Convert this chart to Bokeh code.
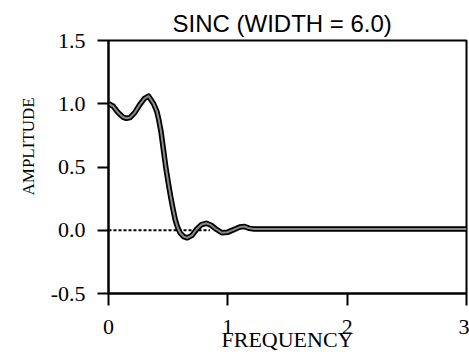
from bokeh.plotting import figure
from bokeh.models import FixedTicker, NumeralTickFormatter, Title
from bokeh.embed import file_html
from bokeh.resources import INLINE

title_text = "SINC (WIDTH = 6.0)"
x_label = "FREQUENCY"
y_label = "AMPLITUDE"

x_ticks = [0, 1, 2, 3]
y_ticks = [-0.5, 0.0, 0.5, 1.0, 1.5]

freq = [0.00, 0.04, 0.08, 0.12, 0.15, 0.18, 0.22, 0.26, 0.30, 0.336, 0.378,
        0.405, 0.42, 0.44, 0.46, 0.48, 0.50, 0.52, 0.54, 0.56, 0.58, 0.60,
        0.63, 0.66, 0.70, 0.74, 0.78, 0.82, 0.86, 0.90, 0.95, 1.00, 1.05,
        1.10, 1.14, 1.18, 1.22, 3.00]
amplitude = [1.00, 0.98, 0.93, 0.895, 0.885, 0.89, 0.93, 0.99, 1.04, 1.06, 1.00,
             0.94, 0.88, 0.78, 0.64, 0.50, 0.38, 0.27, 0.17, 0.08, 0.02, -0.02,
             -0.05, -0.06, -0.04, 0.01, 0.045, 0.055, 0.04, 0.01, -0.02, -0.015, 0.005,
             0.025, 0.03, 0.015, 0.01, 0.01]

zero_x = [0.0, 0.85]
zero_y = [0.0, 0.0]

p = figure(width=469, height=362, x_range=(0, 3), y_range=(-0.5, 1.5),
           output_backend="svg", toolbar_location=None,
           min_border_left=108, min_border_right=3, min_border_top=40,
           min_border_bottom=69)
p.background_fill_color = "white"
p.border_fill_color = "white"
p.grid.visible = False
p.outline_line_color = "black"
p.outline_line_width = 2

serif = "Liberation Serif"

p.title.text = title_text
p.title.align = "left"
p.title.offset = 64
p.title.text_font = "Liberation Sans"
p.title.text_font_size = "24px"
p.title.text_font_style = "normal"
p.title.text_color = "black"
p.title.standoff = 8

for ax in (p.xaxis, p.yaxis):
    ax.axis_line_color = "black"
    ax.axis_line_width = 2
    ax.major_tick_line_color = "black"
    ax.major_tick_line_width = 2
    ax.major_tick_in = 0
    ax.minor_tick_line_color = None
    ax.major_label_text_font = serif
    ax.major_label_text_font_size = "22px"
    ax.major_label_text_color = "black"

p.xaxis.ticker = FixedTicker(ticks=x_ticks)
p.xaxis.major_tick_out = 12
p.xaxis.major_label_standoff = 14
p.xaxis.axis_label = x_label
p.xaxis.axis_label_text_font = serif
p.xaxis.axis_label_text_font_size = "22px"
p.xaxis.axis_label_text_font_style = "normal"
p.xaxis.axis_label_text_color = "black"
p.xaxis.axis_label_standoff = -10

p.yaxis.ticker = FixedTicker(ticks=y_ticks)
p.yaxis.formatter = NumeralTickFormatter(format="0.0")
p.yaxis.major_tick_out = 11
p.yaxis.major_label_standoff = 12

ytitle = Title(text=y_label, align="left", offset=98, standoff=19,
               text_font=serif, text_font_size="17px", text_font_style="normal",
               text_color="black")
p.add_layout(ytitle, "left")

p.line(zero_x, zero_y, line_color="black", line_width=2, line_dash="3 2")
p.line(freq, amplitude, line_color="black", line_width=5.5, line_join="round")
p.line(freq, amplitude, line_color="#8a8a8a", line_width=2, line_join="round")

open("out.html", "w").write(file_html(p, INLINE))
